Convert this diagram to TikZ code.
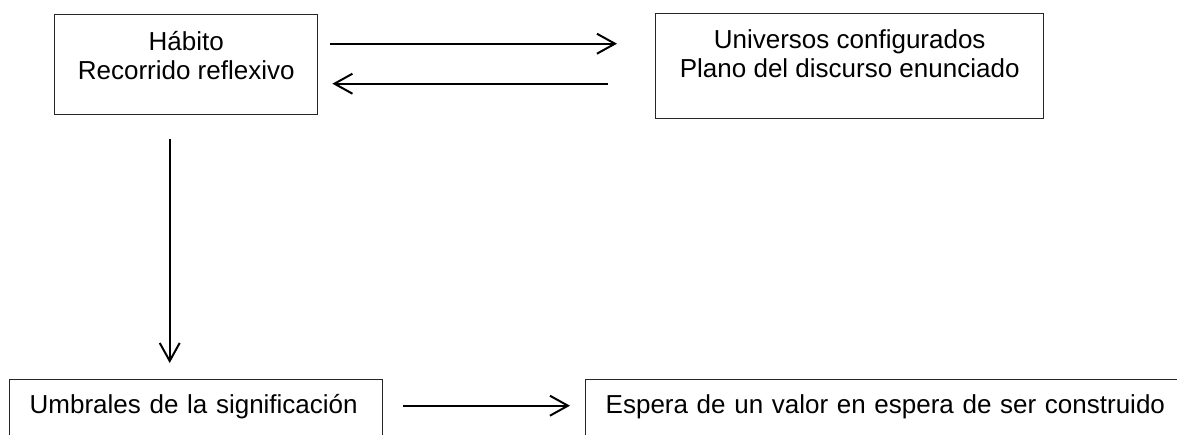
\documentclass[tikz,border=0pt]{standalone}
\usepackage{fontspec}
\setmainfont{Liberation Sans}
\usetikzlibrary{arrows.meta}
\begin{document}
\begin{tikzpicture}[x=0.5pt,y=-0.5pt]
            \tikzset{
                caja/.style={draw=black!85, line width=0.7pt, inner sep=0pt, anchor=north west, font=\fontsize{13}{14.5}\selectfont},
                flecha/.style={-{Straight Barb[length=9pt,width=10pt]}, line width=1pt}
            }
            \useasboundingbox (0,0) rectangle (1177,434);
            \clip (0,0) rectangle (1177,434);
            \draw node[caja, align=center, minimum width=131.5pt, text height=32.5pt, text depth=17.5pt] (hab) at (54,14) {Hábito\\Recorrido reflexivo};
            \draw node[caja, align=center, minimum width=194pt, text height=32.25pt, text depth=20.5pt] (univ) at (655,12.5) {Universos configurados\\Plano del discurso enunciado};
            \draw node[caja, align=left, text width=166.5pt, inner xsep=10pt, text height=17pt, text depth=15pt] (umbr) at (9,379) {Umbrales de la significación};
            \draw node[caja, align=left, text width=310pt, inner xsep=10pt, text height=17pt, text depth=15pt] (esp) at (585,378.5) {Espera de un valor en espera de ser construido};
            % flechas
            \draw[flecha, shorten <=6pt, shorten >=19pt] ([yshift=10.5pt]hab.east) -- ([yshift=10.5pt]hab.east -| univ.west);
            \draw[flecha, shorten <=23.5pt, shorten >=7pt] ([yshift=-9.5pt]hab.east -| univ.west) -- ([yshift=-9.5pt]hab.east);
            \draw[flecha, shorten <=12pt, shorten >=8pt] ([xshift=-8.25pt]hab.south) -- ([xshift=-8.25pt]hab.south |- umbr.north);
            \draw[flecha, shorten <=10pt, shorten >=7.5pt] ([yshift=3pt]umbr.east) -- ([yshift=3pt]umbr.east -| esp.west);
        \end{tikzpicture}
\end{document}
